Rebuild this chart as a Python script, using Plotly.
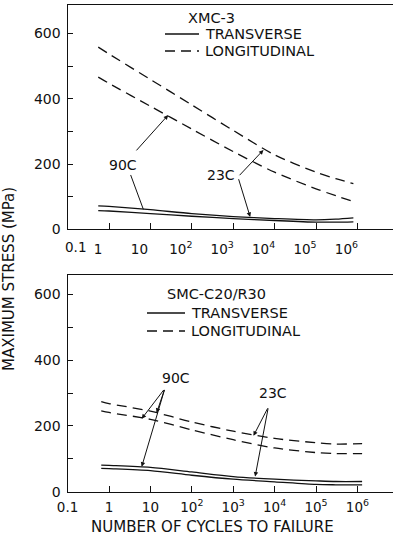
import plotly.graph_objects as go

W, H = 393, 542

# ---------------- data ----------------
# XMC-3 (top panel)
xmc_cycles = [0.55, 1, 10, 100, 1e3, 1e4, 1e5, 3e5, 8e5]
xmc_long_hi = [558, 537, 459, 381, 303, 228, 175, 155, 140]
xmc_long_lo = [466, 447, 377, 307, 238, 175, 124, 103, 85]
xmc_trans_hi = [72, 70, 60, 48, 39, 33, 29, 31, 35]
xmc_trans_lo = [57, 56, 48, 40, 33, 27, 22, 22, 23]

# SMC-C20/R30 (bottom panel)
smc_cycles = [0.65, 1, 10, 100, 1e3, 1e4, 1e5, 3e5, 1.3e6]
smc_long_hi = [274, 268, 245, 212, 184, 162, 149, 145, 146]
smc_long_lo = [246, 241, 220, 188, 158, 133, 119, 116, 116]
smc_trans_hi = [81, 80, 74, 60, 46, 38, 33, 31, 31]
smc_trans_lo = [71, 70, 64, 50, 38, 30, 22, 21, 21]

x_tick_vals = [0.1, 1, 10, 100, 1e3, 1e4, 1e5, 1e6]
x_tick_text = ["0.1", "1", "10", "10<sup>2</sup>", "10<sup>3</sup>",
               "10<sup>4</sup>", "10<sup>5</sup>", "10<sup>6</sup>"]
y_tick_vals = [0, 200, 400, 600]
y_tick_text = ["0", "200", "400", "600"]
legend_names = ["TRANSVERSE", "LONGITUDINAL"]

FONT = "DejaVu Sans"
INK = "#111111"
DASH = "10px,6px"

fig = go.Figure()

def add_curve(x, y, xa, ya, dash, name):
    fig.add_trace(go.Scatter(x=x, y=y, xaxis=xa, yaxis=ya, mode="lines", name=name,
                             line=dict(color=INK, width=1.3, dash=dash, shape="spline", smoothing=0.8),
                             showlegend=False, hoverinfo="skip"))

add_curve(xmc_cycles, xmc_long_hi, "x", "y", DASH, "LONGITUDINAL")
add_curve(xmc_cycles, xmc_long_lo, "x", "y", DASH, "LONGITUDINAL")
add_curve(xmc_cycles, xmc_trans_hi, "x", "y", "solid", "TRANSVERSE")
add_curve(xmc_cycles, xmc_trans_lo, "x", "y", "solid", "TRANSVERSE")
add_curve(smc_cycles, smc_long_hi, "x2", "y2", DASH, "LONGITUDINAL")
add_curve(smc_cycles, smc_long_lo, "x2", "y2", DASH, "LONGITUDINAL")
add_curve(smc_cycles, smc_trans_hi, "x2", "y2", "solid", "TRANSVERSE")
add_curve(smc_cycles, smc_trans_lo, "x2", "y2", "solid", "TRANSVERSE")

def px_x(p):
    return p / W

def px_y(p):
    return (H - p) / H

x_left = 67.6
xdom = [px_x(x_left), 1.0]

common_x = dict(type="log", range=[-1, 6.86], domain=xdom, showline=True, linecolor=INK,
                linewidth=1.3, mirror=True, ticks="inside", ticklen=6, tickcolor=INK,
                tickvals=x_tick_vals, showgrid=False, zeroline=False,
                tickfont=dict(family=FONT, size=13.5, color=INK), automargin=False)
common_y = dict(showline=True, linecolor=INK, linewidth=1.3, ticks="inside", ticklen=5,
                tickcolor=INK, tickvals=y_tick_vals, ticktext=y_tick_text, showgrid=False,
                zeroline=False, tickfont=dict(family=FONT, size=14, color=INK),
                minor=dict(tickvals=[100, 300, 500], ticks="inside", ticklen=5, tickcolor=INK),
                ticklabelstandoff=3, automargin=False)

# top axis: the 0.1 label sits apart from its shifted neighbours in the original
top_tick_text = [""] + x_tick_text[1:]

fig.update_layout(
    width=W, height=H, margin=dict(l=0, r=0, t=0, b=0, autoexpand=False),
    paper_bgcolor="white", plot_bgcolor="white", showlegend=False,
    xaxis=dict(common_x, anchor="y", ticktext=top_tick_text, ticklabelshift=-11,
               ticklabelstandoff=7),
    yaxis=dict(common_y, anchor="x", range=[0, 687], domain=[px_y(229.3), px_y(5)]),
    xaxis2=dict(common_x, anchor="y2", ticktext=x_tick_text, ticklabelstandoff=3),
    yaxis2=dict(common_y, anchor="x2", range=[0, 659], domain=[px_y(491.7), px_y(275)]),
)

annots = []
shapes = []

def text_ann(txt, x, y, size=14, angle=0, xanchor="center"):
    annots.append(dict(text=txt, x=x, y=y, xref="paper", yref="paper", showarrow=False,
                       xanchor=xanchor, yanchor="middle", textangle=angle,
                       font=dict(family=FONT, size=size, color=INK)))

text_ann(x_tick_text[0], px_x(75), px_y(247), size=13.5)

# panel titles and key (line samples + labels)
text_ann("XMC-3", px_x(211), px_y(18), size=14.5)
text_ann("SMC-C20/R30", px_x(216), px_y(294), size=14.5)

def key(x0, x1, xt, ys):
    for (name, dash, yy) in zip(legend_names, ["solid", DASH], ys):
        shapes.append(dict(type="line", xref="paper", yref="paper",
                           x0=px_x(x0), x1=px_x(x1), y0=px_y(yy), y1=px_y(yy),
                           line=dict(color=INK, width=1.3, dash=dash)))
        text_ann(name, px_x(xt), px_y(yy), size=14.5, xanchor="left")

key(165, 199, 203, [34, 51])
key(147, 185, 189, [313, 331])

text_ann("MAXIMUM STRESS (MPa)", px_x(9), px_y(279), size=15, angle=-90)
text_ann("NUMBER OF CYCLES TO FAILURE", px_x(212), px_y(527), size=15)

def data_text(txt, lx, y, xr, yr):
    annots.append(dict(text=txt, x=lx, y=y, xref=xr, yref=yr, showarrow=False,
                       xanchor="center", yanchor="middle",
                       font=dict(family=FONT, size=14, color=INK)))

def arrow(hx, hy, tx, ty, xr, yr, head=2):
    annots.append(dict(text="", x=hx, y=hy, ax=tx, ay=ty, xref=xr, yref=yr, axref=xr, ayref=yr,
                       showarrow=True, arrowhead=head, arrowsize=0.9, arrowwidth=1,
                       arrowcolor=INK, standoff=0, startstandoff=0))

# top panel labels (log10 x coordinates)
data_text("90C", 0.34, 197, "x", "y")
arrow(1.43, 350, 0.63, 237, "x", "y")
arrow(0.83, 61, 0.51, 171, "x", "y", head=0)
data_text("23C", 2.71, 166, "x", "y")
arrow(3.73, 243, 3.12, 161, "x", "y")
arrow(3.41, 38, 3.12, 158, "x", "y")

# bottom panel labels
data_text("90C", 1.63, 345, "x2", "y2")
arrow(0.79, 222, 1.35, 314, "x2", "y2")
arrow(1.15, 240, 1.35, 314, "x2", "y2")
arrow(0.79, 76, 1.35, 314, "x2", "y2")
data_text("23C", 3.97, 299, "x2", "y2")
arrow(3.49, 170, 3.85, 258, "x2", "y2")
arrow(3.53, 46, 3.85, 258, "x2", "y2")

fig.update_layout(annotations=annots, shapes=shapes)

fig.write_html("out.html")
